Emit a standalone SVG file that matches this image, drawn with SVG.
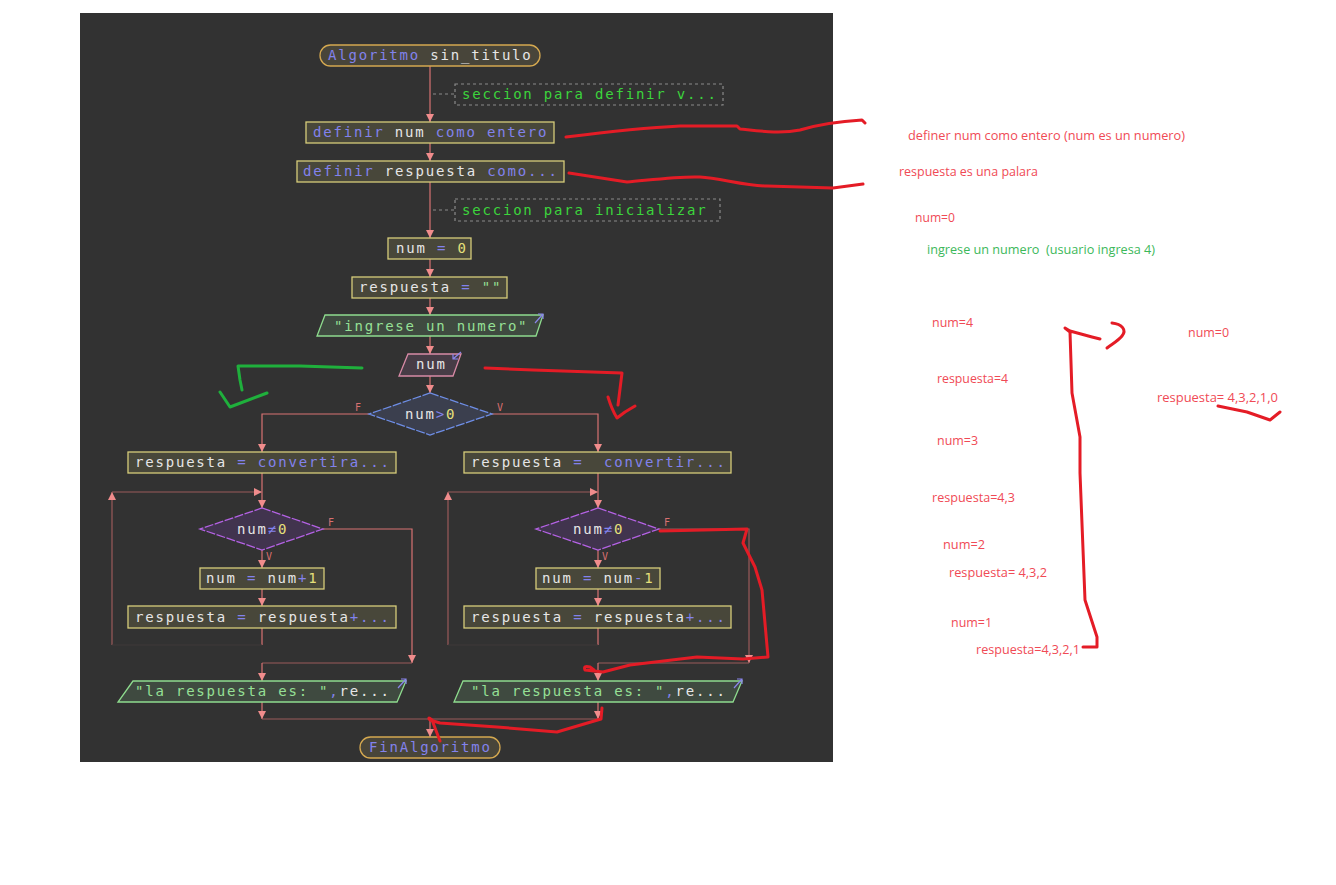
<svg xmlns="http://www.w3.org/2000/svg" width="1336" height="885" viewBox="0 0 1336 885">
  <style>
    text { white-space: pre; }
    .code { font-family: "DejaVu Sans Mono", "Liberation Mono", monospace; font-size: 14px; letter-spacing: 1.8px; }
    .kw { fill: #8282ec; }
    .id { fill: #e6e6e6; }
    .num { fill: #e6e07a; }
    .str { fill: #96e096; }
    .cmt { fill: #3cd43c; }
    .proc { fill: #48473a; stroke: #d6cd7a; stroke-width: 1.3; }
    .term { fill: #48453a; stroke: #d4a850; stroke-width: 1.3; }
    .outp { fill: #3f4a40; stroke: #8edc8e; stroke-width: 1.3; }
    .inp { fill: #473c46; stroke: #d88aa6; stroke-width: 1.3; }
    .dec1 { fill: #3b3f4e; stroke: #6e8ee6; stroke-width: 1.3; stroke-dasharray: 9 1.5; }
    .dec2 { fill: #41344e; stroke: #b462e4; stroke-width: 1.3; stroke-dasharray: 9 1.5; }
    .note { fill: none; stroke: #8a8a8a; stroke-width: 1.2; stroke-dasharray: 3 3; }
    .flow { fill: none; stroke: #d87272; stroke-width: 1.2; }
    .dim { fill: none; stroke: #9a5a5a; stroke-width: 1.2; }
    .faint { fill: none; stroke: #3e3838; stroke-width: 1.2; }
    .lbl { font-family: "DejaVu Sans Mono", monospace; font-size: 10px; fill: #d87070; }
    .icon { fill: none; stroke: #8a86ec; stroke-width: 1.2; }
    .ann { font-family: "Open Sans", "Noto Sans", sans-serif; font-size: 12px; }
    .red { fill: #f04a55; }
    .grn { fill: #3cb85a; }
    .ink { fill: none; stroke: #e41c26; stroke-width: 3; stroke-linecap: round; stroke-linejoin: round; }
    .inkg { fill: none; stroke: #1fb03c; stroke-width: 3; stroke-linecap: round; stroke-linejoin: round; }
  </style>
  <defs>
    <marker id="ah" viewBox="0 0 10 10" refX="10" refY="5" markerWidth="8" markerHeight="8" markerUnits="userSpaceOnUse" orient="auto">
      <path d="M0,0 L10,5 L0,10 z" fill="#f08c8c"/>
    </marker>
  </defs>

  <rect x="0" y="0" width="1336" height="885" fill="#ffffff"/>
  <rect x="80" y="13" width="753" height="749" fill="#323232"/>

  <!-- connectors -->
  <g id="connectors">
    <path class="flow" d="M430,66 V122" marker-end="url(#ah)"/>
    <path class="flow" d="M430,143 V161" marker-end="url(#ah)"/>
    <path class="flow" d="M430,182 V238" marker-end="url(#ah)"/>
    <path class="flow" d="M430,259 V277" marker-end="url(#ah)"/>
    <path class="flow" d="M430,298 V315" marker-end="url(#ah)"/>
    <path class="flow" d="M430,336 V354" marker-end="url(#ah)"/>
    <path class="flow" d="M430,376 V393" marker-end="url(#ah)"/>
    <path class="note" d="M433,94 H455"/>
    <path class="note" d="M433,210 H455"/>

    <!-- num>0 branches -->
    <path class="flow" d="M369,414 H262 V452" marker-end="url(#ah)"/>
    <path class="flow" d="M492,414 H598 V452" marker-end="url(#ah)"/>

    <!-- left loop -->
    <path class="flow" d="M262,473 V508" marker-end="url(#ah)"/>
    <path class="dim" d="M112,645 V492" marker-end="url(#ah)"/>
    <path class="dim" d="M112,492 H262" marker-end="url(#ah)"/>
    <path class="flow" d="M262,550 V568" marker-end="url(#ah)"/>
    <path class="flow" d="M262,589 V606" marker-end="url(#ah)"/>
    <path class="flow" d="M262,628 V645"/>
    <path class="faint" d="M262,645 H112"/>
    <path class="flow" d="M323,529 H412 V663" marker-end="url(#ah)"/>
    <path class="dim" d="M412,663 H262"/>
    <path class="flow" d="M262,663 V681" marker-end="url(#ah)"/>
    <path class="flow" d="M262,702 V719" marker-end="url(#ah)"/>

    <!-- right loop -->
    <path class="flow" d="M598,473 V508" marker-end="url(#ah)"/>
    <path class="dim" d="M448,645 V492" marker-end="url(#ah)"/>
    <path class="dim" d="M448,492 H598" marker-end="url(#ah)"/>
    <path class="flow" d="M598,550 V568" marker-end="url(#ah)"/>
    <path class="flow" d="M598,589 V606" marker-end="url(#ah)"/>
    <path class="flow" d="M598,628 V645"/>
    <path class="faint" d="M598,645 H448"/>
    <path class="dim" d="M659,529 H749 V663" marker-end="url(#ah)"/>
    <path class="dim" d="M749,663 H598"/>
    <path class="flow" d="M598,663 V681" marker-end="url(#ah)"/>
    <path class="flow" d="M598,702 V719" marker-end="url(#ah)"/>

    <!-- merge -->
    <path class="dim" d="M262,719 H598"/>
    <path class="flow" d="M430,719 V737" marker-end="url(#ah)"/>

    <text class="lbl" x="355" y="411">F</text>
    <text class="lbl" x="497" y="411">V</text>
    <text class="lbl" x="328" y="526">F</text>
    <text class="lbl" x="266" y="560">V</text>
    <text class="lbl" x="664" y="526">F</text>
    <text class="lbl" x="602" y="560">V</text>
  </g>

  <g id="start">
    <rect class="term" x="320" y="45" width="220" height="21" rx="10.5"/>
    <text class="code" x="328" y="60"><tspan class="kw">Algoritmo</tspan><tspan class="id"> sin_titulo</tspan></text>
  </g>

  <g id="note-definir">
    <rect class="note" x="455" y="84" width="268" height="21"/>
    <text class="code cmt" x="462" y="99">seccion para definir v...</text>
  </g>

  <g id="def-num">
    <rect class="proc" x="306" y="122" width="248" height="21"/>
    <text class="code" x="313" y="137"><tspan class="kw">definir </tspan><tspan class="id">num</tspan><tspan class="kw"> como entero</tspan></text>
  </g>

  <g id="def-respuesta">
    <rect class="proc" x="297" y="161" width="267" height="21"/>
    <text class="code" x="303" y="176"><tspan class="kw">definir </tspan><tspan class="id">respuesta</tspan><tspan class="kw"> como...</tspan></text>
  </g>

  <g id="note-inicializar">
    <rect class="note" x="455" y="199" width="265" height="22"/>
    <text class="code cmt" x="462" y="215">seccion para inicializar</text>
  </g>

  <g id="num-cero">
    <rect class="proc" x="388" y="238" width="83" height="21"/>
    <text class="code" x="396" y="253"><tspan class="id">num</tspan><tspan class="kw"> = </tspan><tspan class="num">0</tspan></text>
  </g>

  <g id="respuesta-vacia">
    <rect class="proc" x="352" y="277" width="155" height="21"/>
    <text class="code" x="359" y="292"><tspan class="id">respuesta</tspan><tspan class="kw"> = </tspan><tspan class="str">""</tspan></text>
  </g>

  <g id="out-ingrese">
    <polygon class="outp" points="325,315 543,315 536,336 317,336"/>
    <text class="code str" x="334" y="331">"ingrese un numero"</text>
    <path class="icon" d="M535,323 L543,314 M538,314 H543 V319"/>
  </g>

  <g id="in-num">
    <polygon class="inp" points="408,354 461,354 453,376 399,376"/>
    <text class="code id" x="416" y="369">num</text>
    <path class="icon" d="M461,352 L453,359 M453,354 V359 H458"/>
  </g>

  <g id="dec-mayor">
    <polygon class="dec1" points="430,393 492,414 430,435 369,414"/>
    <text class="code" x="405" y="419"><tspan class="id">num</tspan><tspan class="kw">&gt;</tspan><tspan class="num">0</tspan></text>
  </g>

  <g id="conv-izq">
    <rect class="proc" x="128" y="452" width="268" height="21"/>
    <text class="code" x="135" y="467"><tspan class="id">respuesta</tspan><tspan class="kw"> = convertira...</tspan></text>
  </g>

  <g id="conv-der">
    <rect class="proc" x="464" y="452" width="267" height="21"/>
    <text class="code" x="471" y="467" xml:space="preserve"><tspan class="id">respuesta</tspan><tspan class="kw"> =  convertir...</tspan></text>
  </g>

  <g id="dec-izq">
    <polygon class="dec2" points="262,508 323,529 262,550 200,529"/>
    <text class="code" x="237" y="534"><tspan class="id">num</tspan><tspan class="kw">≠</tspan><tspan class="num">0</tspan></text>
  </g>

  <g id="dec-der">
    <polygon class="dec2" points="598,508 659,529 598,550 536,529"/>
    <text class="code" x="573" y="534"><tspan class="id">num</tspan><tspan class="kw">≠</tspan><tspan class="num">0</tspan></text>
  </g>

  <g id="inc-num">
    <rect class="proc" x="200" y="568" width="124" height="21"/>
    <text class="code" x="206" y="583"><tspan class="id">num</tspan><tspan class="kw"> = </tspan><tspan class="id">num</tspan><tspan class="kw">+</tspan><tspan class="num">1</tspan></text>
  </g>

  <g id="dec-num">
    <rect class="proc" x="536" y="568" width="124" height="21"/>
    <text class="code" x="542" y="583"><tspan class="id">num</tspan><tspan class="kw"> = </tspan><tspan class="id">num</tspan><tspan class="kw">-</tspan><tspan class="num">1</tspan></text>
  </g>

  <g id="acum-izq">
    <rect class="proc" x="128" y="606" width="268" height="22"/>
    <text class="code" x="135" y="622"><tspan class="id">respuesta</tspan><tspan class="kw"> = </tspan><tspan class="id">respuesta</tspan><tspan class="kw">+...</tspan></text>
  </g>

  <g id="acum-der">
    <rect class="proc" x="464" y="606" width="267" height="22"/>
    <text class="code" x="471" y="622"><tspan class="id">respuesta</tspan><tspan class="kw"> = </tspan><tspan class="id">respuesta</tspan><tspan class="kw">+...</tspan></text>
  </g>

  <g id="out-izq">
    <polygon class="outp" points="133,681 406,681 397,702 118,702"/>
    <text class="code" x="135" y="696"><tspan class="str">"la respuesta es: "</tspan><tspan class="kw">,</tspan><tspan class="id">re...</tspan></text>
    <path class="icon" d="M398,688 L406,679 M401,679 H406 V684"/>
  </g>

  <g id="out-der">
    <polygon class="outp" points="463,681 742,681 733,702 454,702"/>
    <text class="code" x="471" y="696"><tspan class="str">"la respuesta es: "</tspan><tspan class="kw">,</tspan><tspan class="id">re...</tspan></text>
    <path class="icon" d="M734,688 L742,679 M737,679 H742 V684"/>
  </g>

  <g id="end">
    <rect class="term" x="360" y="737" width="140" height="21" rx="10.5"/>
    <text class="code kw" x="369" y="752">FinAlgoritmo</text>
  </g>

  <!-- handwritten marks -->
  <g id="ink">
    <path class="ink" d="M566,137 C590,134 640,128 680,126 L737,126 L740,129 C760,131 780,134 800,130 C820,124 845,121 862,120 L865,123"/>
    <path class="ink" d="M569,173 L627,182 C650,180 680,176 700,177 C720,178 745,186 767,186 L833,188 L863,184"/>
    <path class="ink" d="M485,368 L533,370 L622,373 L618,405"/>
    <path class="ink" d="M608,397 Q612,410 617,418 L625,412 L635,406"/>
    <path class="inkg" d="M362,368 L300,366 L238,366 L240,380 L242,390"/>
    <path class="inkg" d="M220,392 L230,407 L267,393"/>
    <path class="ink" d="M660,531 L747,529 L743,543 L755,567 L762,590 L768,657 L743,659 L697,657 L630,665 L603,672 L585,670 Q583,665 590,667 L594,670"/>
    <path class="ink" d="M602,708 L601,719 L557,732 L497,727 L440,723 L430,720 Q427,716 432,720 L440,741"/>
    <path class="ink" d="M1100,339 L1092,337 L1070,331 L1065,328 L1070,332 L1072,393 L1080,437 L1080,473 L1085,600 L1097,637 L1097,647 L1083,647"/>
    <path class="ink" d="M1112,323 C1122,324 1127,330 1122,336 C1118,341 1112,344 1107,348"/>
    <path class="ink" d="M1218,406 L1247,412 L1270,420 L1280,412"/>
  </g>

  <!-- notes -->
  <g id="notes">
    <text class="ann red" x="908" y="140" textLength="277" lengthAdjust="spacingAndGlyphs">definer num como entero (num es un numero)</text>
    <text class="ann red" x="899" y="176" textLength="139" lengthAdjust="spacingAndGlyphs">respuesta es una palara</text>
    <text class="ann red" x="915" y="222" textLength="40" lengthAdjust="spacingAndGlyphs">num=0</text>
    <text class="ann grn" x="927" y="254" textLength="228" lengthAdjust="spacingAndGlyphs" xml:space="preserve">ingrese un numero  (usuario ingresa 4)</text>
    <text class="ann red" x="932" y="327" textLength="41" lengthAdjust="spacingAndGlyphs">num=4</text>
    <text class="ann red" x="1188" y="337" textLength="41" lengthAdjust="spacingAndGlyphs">num=0</text>
    <text class="ann red" x="937" y="383" textLength="71" lengthAdjust="spacingAndGlyphs">respuesta=4</text>
    <text class="ann red" x="1157" y="402" textLength="121" lengthAdjust="spacingAndGlyphs">respuesta= 4,3,2,1,0</text>
    <text class="ann red" x="937" y="445" textLength="41" lengthAdjust="spacingAndGlyphs">num=3</text>
    <text class="ann red" x="932" y="502" textLength="83" lengthAdjust="spacingAndGlyphs">respuesta=4,3</text>
    <text class="ann red" x="943" y="549" textLength="42" lengthAdjust="spacingAndGlyphs">num=2</text>
    <text class="ann red" x="949" y="577" textLength="98" lengthAdjust="spacingAndGlyphs">respuesta= 4,3,2</text>
    <text class="ann red" x="951" y="627" textLength="41" lengthAdjust="spacingAndGlyphs">num=1</text>
    <text class="ann red" x="976" y="654" textLength="104" lengthAdjust="spacingAndGlyphs">respuesta=4,3,2,1</text>
  </g>
</svg>
